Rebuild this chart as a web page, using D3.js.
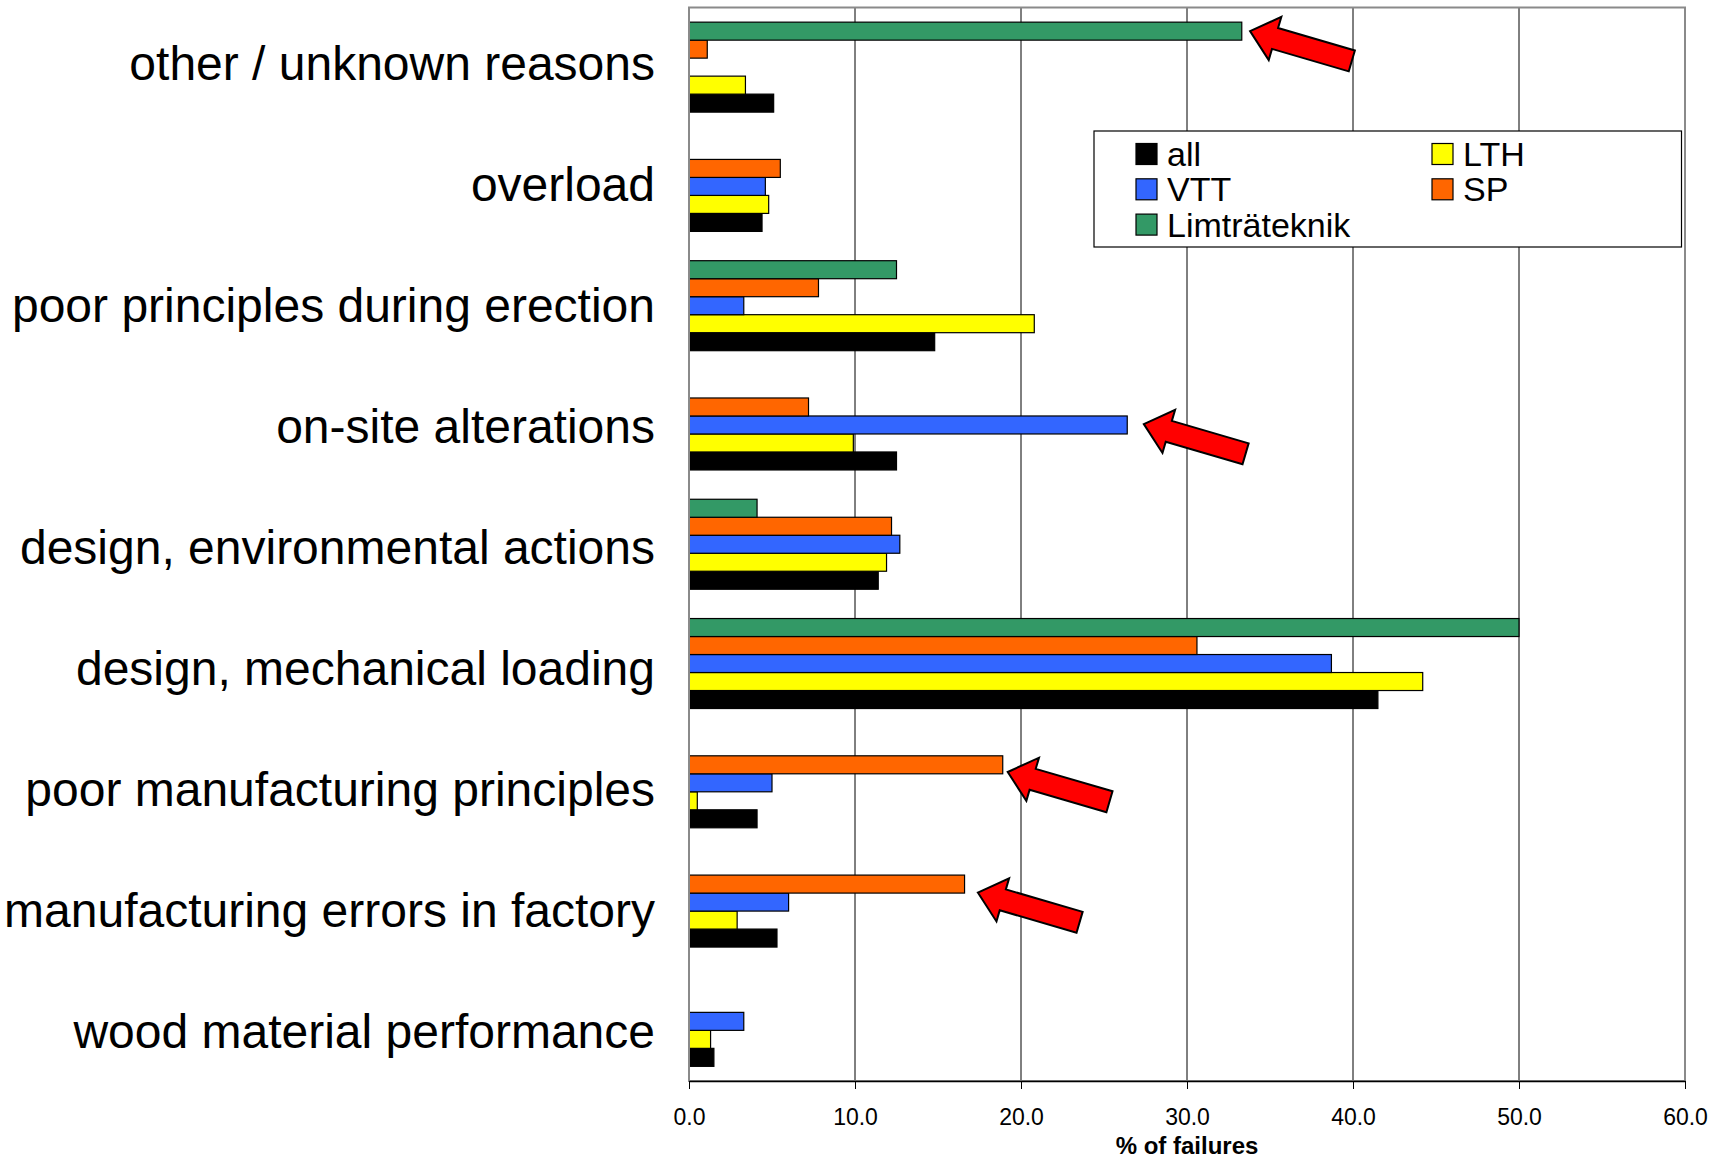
<!DOCTYPE html>
<html>
<head>
<meta charset="utf-8">
<script src="https://cdn.jsdelivr.net/npm/d3@7"></script>
<style>
  html, body { margin: 0; padding: 0; background: #fff; }
  svg { display: block; font-family: "Liberation Sans", Arial, sans-serif; }
</style>
</head>
<body>
<svg id="chart" width="1726" height="1161"></svg>
<script>
// Failure causes, listed top to bottom
const categories = [
  "other / unknown reasons",
  "overload",
  "poor principles during erection",
  "on-site alterations",
  "design, environmental actions",
  "design, mechanical loading",
  "poor manufacturing principles",
  "manufacturing errors in factory",
  "wood material performance"
];

// % of failures per source (null = no bar)
const allValues     = [5.1, 4.4, 14.8, 12.5, 11.4, 41.5, 4.1, 5.3, 1.5];
const lthValues     = [3.4, 4.8, 20.8, 9.9, 11.9, 44.2, 0.5, 2.9, 1.3];
const vttValues     = [null, 4.6, 3.3, 26.4, 12.7, 38.7, 5.0, 6.0, 3.3];
const spValues      = [1.1, 5.5, 7.8, 7.2, 12.2, 30.6, 18.9, 16.6, null];
const limtraValues  = [33.3, null, 12.5, null, 4.1, 50.0, null, null, null];

const seriesNames  = ["all", "LTH", "VTT", "SP", "Limträteknik"];
const seriesColors = ["#000000", "#FFFF00", "#3366FF", "#FF6600", "#339966"];
const seriesValues = [allValues, lthValues, vttValues, spValues, limtraValues];

const xTicks = [0, 10, 20, 30, 40, 50, 60];
const xTitle = "% of failures";

// Highlighted bars: the arrow tip sits at value `at`, `pos` down the bar's height
const highlights = [
  { category: "other / unknown reasons",         series: "Limträteknik", at: 33.8, pos: 0.5 },
  { category: "on-site alterations",             series: "VTT",          at: 27.4, pos: 0.45 },
  { category: "poor manufacturing principles",   series: "SP",           at: 19.2, pos: 0.9 },
  { category: "manufacturing errors in factory", series: "SP",           at: 17.4, pos: 0.97 }
];

// ---- layout ----
const plot = { left: 689, right: 1685, top: 7.5, bottom: 1081 };
const svg = d3.select("#chart");
svg.append("rect").attr("width", 1726).attr("height", 1161).attr("fill", "#fff");

const x = d3.scaleLinear().domain([0, 60]).range([plot.left, plot.right]);
const y0 = d3.scaleBand().domain(categories)
  .range([plot.top, plot.bottom]).paddingInner(0.2456).paddingOuter(0.1228);
// Within a group the last series sits on top
const stackOrder = seriesNames.slice().reverse();
const y1 = d3.scaleBand().domain(stackOrder).range([0, y0.bandwidth()]);

const color = d3.scaleOrdinal().domain(seriesNames).range(seriesColors);

// vertical gridlines
svg.append("g").selectAll("line")
  .data(xTicks.filter(t => t > 0 && t < 60))
  .join("line")
  .attr("x1", d => x(d)).attr("x2", d => x(d))
  .attr("y1", plot.top).attr("y2", plot.bottom)
  .attr("stroke", "#000").attr("stroke-width", 1);

// plot area frame
svg.append("rect")
  .attr("x", plot.left).attr("y", plot.top)
  .attr("width", plot.right - plot.left).attr("height", plot.bottom - plot.top)
  .attr("fill", "none").attr("stroke", "#8a8a8a").attr("stroke-width", 2);

// bars
const barData = [];
categories.forEach((c, i) => {
  seriesNames.forEach((s, j) => {
    const v = seriesValues[j][i];
    if (v !== null && v > 0) barData.push({ category: c, series: s, value: v });
  });
});

svg.append("g").selectAll("rect")
  .data(barData)
  .join("rect")
  .attr("x", x(0))
  .attr("y", d => y0(d.category) + y1(d.series))
  .attr("width", d => x(d.value) - x(0))
  .attr("height", y1.bandwidth())
  .attr("fill", d => color(d.series))
  .attr("stroke", "#000")
  .attr("stroke-width", 1.2);

// category axis line
svg.append("line")
  .attr("x1", plot.left).attr("x2", plot.left)
  .attr("y1", plot.top).attr("y2", plot.bottom)
  .attr("stroke", "#8a8a8a").attr("stroke-width", 2);

// value axis
const xAxis = d3.axisBottom(x)
  .tickValues(xTicks)
  .tickFormat(d3.format(".1f"))
  .tickSizeInner(8).tickSizeOuter(0).tickPadding(20);

const gx = svg.append("g")
  .attr("transform", `translate(0,${plot.bottom})`)
  .call(xAxis);
gx.select(".domain").attr("stroke", "#000").attr("stroke-width", 1.5);
gx.selectAll(".tick line").attr("stroke", "#000").attr("stroke-width", 1);
gx.selectAll(".tick text")
  .attr("font-family", "'Liberation Sans', Arial, sans-serif")
  .attr("font-size", 23).attr("fill", "#000");

svg.append("text")
  .attr("x", (plot.left + plot.right) / 2)
  .attr("y", 1154)
  .attr("text-anchor", "middle")
  .attr("font-size", 24).attr("font-weight", "bold")
  .text(xTitle);

// category labels
const labelY = d3.scalePoint().domain(categories).range([80, 1048]);
svg.append("g").selectAll("text")
  .data(categories)
  .join("text")
  .attr("x", 655)
  .attr("y", d => labelY(d))
  .attr("text-anchor", "end")
  .attr("font-size", 48)
  .attr("fill", "#000")
  .text(d => d);

// legend
const legend = svg.append("g");
legend.append("rect")
  .attr("x", 1094).attr("y", 131)
  .attr("width", 1681.5 - 1094).attr("height", 247 - 131)
  .attr("fill", "#fff").attr("stroke", "#000").attr("stroke-width", 1.2);

const legendItems = legend.selectAll("g.item")
  .data(seriesNames)
  .join("g")
  .attr("class", "item")
  .attr("transform", (d, i) => {
    const col = i % 2, row = Math.floor(i / 2);
    return `translate(${1136 + col * 296},${154 + row * 35.3})`;
  });
legendItems.append("rect")
  .attr("x", 0).attr("y", -10.5)
  .attr("width", 21).attr("height", 21)
  .attr("fill", d => color(d))
  .attr("stroke", "#000").attr("stroke-width", 1.2);
legendItems.append("text")
  .attr("x", 31).attr("y", 12)
  .attr("font-size", 34)
  .attr("fill", "#000")
  .text(d => d);

// block arrows pointing at the highlighted bars
const arrow = { angle: 16.3, length: 106, head: 26, headHalf: 22.5, shaftHalf: 10.9 };
function arrowPath(tx, ty) {
  const a = arrow.angle * Math.PI / 180;
  const ux = Math.cos(a), uy = Math.sin(a);   // tip -> tail
  const nx = Math.sin(a), ny = -Math.cos(a);  // perpendicular (up side)
  const bx = tx + arrow.head * ux, by = ty + arrow.head * uy;
  const ex = tx + arrow.length * ux, ey = ty + arrow.length * uy;
  const p = [
    [tx, ty],
    [bx + arrow.headHalf * nx, by + arrow.headHalf * ny],
    [bx + arrow.shaftHalf * nx, by + arrow.shaftHalf * ny],
    [ex + arrow.shaftHalf * nx, ey + arrow.shaftHalf * ny],
    [ex - arrow.shaftHalf * nx, ey - arrow.shaftHalf * ny],
    [bx - arrow.shaftHalf * nx, by - arrow.shaftHalf * ny],
    [bx - arrow.headHalf * nx, by - arrow.headHalf * ny]
  ];
  return "M" + p.map(q => q.join(",")).join("L") + "Z";
}

svg.append("g").selectAll("path")
  .data(highlights)
  .join("path")
  .attr("d", d => arrowPath(
    x(d.at),
    y0(d.category) + y1(d.series) + d.pos * y1.bandwidth()))
  .attr("fill", "#FF0000")
  .attr("stroke", "#000")
  .attr("stroke-width", 2)
  .attr("stroke-linejoin", "miter");
</script>
</body>
</html>
